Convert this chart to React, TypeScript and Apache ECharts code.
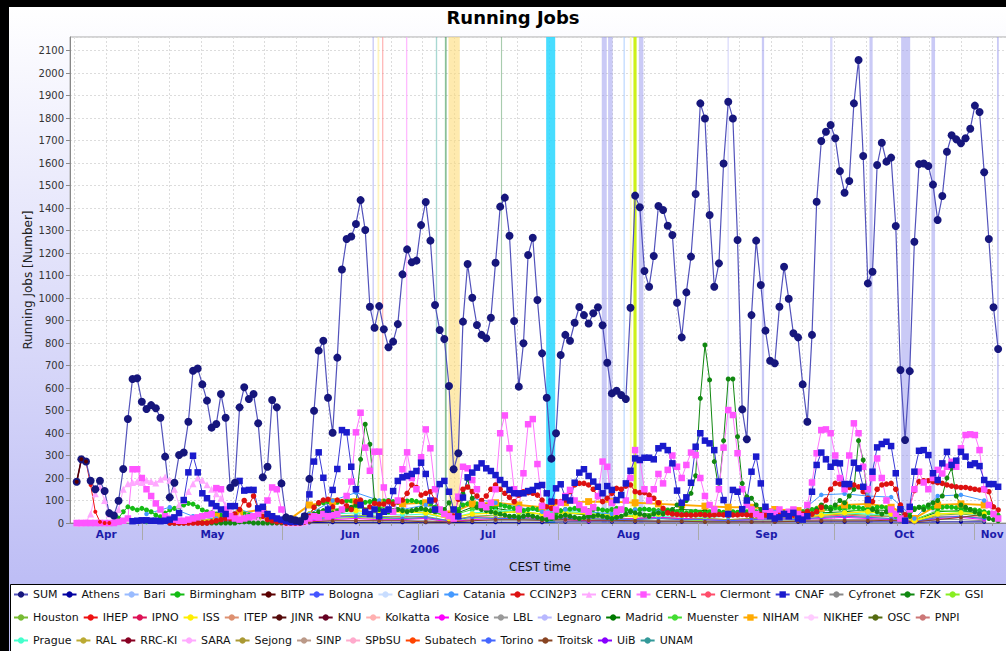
import React, { useEffect, useRef } from 'react';
import * as echarts from 'echarts';

// ---------------- time base of the samples ----------------
const FIRST_SAMPLE = '2006-04-16 11:30';
const SAMPLE_HOURS = 24.7;
const AXIS_START = '2006-04-15 00:00';
const AXIS_END = '2006-11-08 21:00';
const YEAR_LABEL_AT = '2006-07-02 12:00';
const MONTH_NAMES = ['Jan', 'Feb', 'Mar', 'Apr', 'May', 'Jun', 'Jul', 'Aug', 'Sep', 'Oct', 'Nov', 'Dec'];

// ---------------- daily series (one value per sample, null = not reported) ----------------
const SUM = [
  183, 283, 273, 188, 150, 188, 142, 44, 33, 99,
  240, 462, 640, 643, 539, 507, 524, 510, 468, 295,
  114, 179, 302, 313, 450, 677, 687, 616, 544, 424,
  440, 573, 468, 157, 179, 514, 603, 551, 573, 443,
  203, 250, 547, 514, 176, 25, 18, 12, 8, 30,
  196, 499, 766, 810, 557, 401, 735, 1127, 1262, 1273,
  1329, 1435, 1302, 961, 868, 964, 861, 781, 806, 884,
  1105, 1216, 1159, 1166, 1324, 1427, 1255, 969, 858, 818,
  609, 239, 310, 895, 1151, 1001, 880, 836, 821, 912,
  1157, 1406, 1446, 1277, 898, 606, 799, 1191, 1268, 991,
  754, 557, 286, 399, 747, 836, 810, 890, 960, 924,
  887, 932, 959, 879, 712, 576, 588, 569, 551, 957,
  1455, 1403, 1120, 1050, 1187, 1409, 1391, 1321, 1280, 979,
  825, 1025, 1184, 1462, 1865, 1798, 1369, 1050, 1154, 1598,
  1872, 1798, 1258, 505, 372, 924, 1255, 1058, 855, 721,
  710, 961, 1139, 997, 843, 825, 616, 450, 836, 1428,
  1698, 1739, 1769, 1710, 1564, 1468, 1520, 1865, 2058, 1631,
  1065, 1117, 1591, 1690, 1606, 1624, 1320, 680, 369, 675,
  1250, 1595, 1598, 1587, 1504, 1347, 1453, 1650, 1723, 1705,
  1688, 1710, 1752, 1855, 1827, 1559, 1262, 959, 773,
];

const CNAF = [
  null, null, null, null, null, null, null, null, null, null,
  null, null, 8, 10, 12, 12, 10, 10, 8, 10,
  15, 25, 44, 102, 225, 299, 225, 132, 110, 87,
  75, 60, 40, 75, 75, 187, 144, 147, 147, 65,
  72, 40, 30, 20, 15, 8, 5, 5, 5, 30,
  127, 273, 314, 201, 60, 147, 240, 413, 403, 250,
  150, 80, 50, 40, 60, 30, 50, 60, 142, 187,
  203, 209, 218, 231, 268, 218, 100, 60, 173, 187,
  139, 60, 30, 113, 203, 224, 246, 265, 243, 231,
  213, 191, 173, 147, 132, 132, 132, 142, 147, 164,
  169, 132, 95, 154, 172, 114, 100, 179, 224, 239,
  209, 184, 161, 132, 164, 147, 102, 124, 176, 232,
  287, 280, 290, 290, 283, 332, 342, 324, 265, 144,
  90, 114, 179, 339, 399, 366, 354, 324, 184, 102,
  40, 147, 139, 61, 100, 228, 295, 176, 72, 30,
  20, 25, 40, 30, 45, 20, 15, 30, 139, 258,
  313, 283, 250, 268, 265, 173, 173, 268, 243, 161,
  102, 228, 336, 351, 361, 342, 221, 61, 10, 72,
  228, 321, 324, 302, 221, 191, 265, 316, 258, 277,
  316, 295, 258, 265, 253, 191, 173, 173, 161,
];

const CERN_L = [
  0, 0, 0, 0, 0, 0, 0, 0, 0, 5,
  10, 20, 239, 239, 200, 150, 120, 87, 60, 30,
  20, 15, 10, 10, 15, 20, 25, 30, 35, 40,
  155, 150, 60, 30, 20, 15, 20, 25, 30, 40,
  60, 100, 158, 150, 60, 10, 5, 5, 5, 10,
  20, 30, 25, 40, 30, 35, 40, 60, 120, 184,
  403, 490, 335, 232, 317, 317, 158, 60, 50, 100,
  239, 314, 200, 150, 292, 416, 332, 150, 60, 40,
  30, 20, 117, 250, 243, 191, 150, 80, 70, 90,
  150, 399, 478, 332, 150, 60, 221, 439, 462, 262,
  76, 40, 30, 60, 90, 120, 147, 100, 80, 60,
  50, 70, 120, 273, 250, 90, 50, 60, 100, 200,
  324, 280, 150, 100, 150, 218, 176, 236, 300, 250,
  200, 258, 313, 302, 200, 120, 80, 60, 150, 335,
  502, 480, 310, 150, 80, 60, 40, 30, 60, 50,
  40, 60, 40, 50, 60, 40, 30, 80, 180, 310,
  413, 416, 399, 300, 200, 150, 300, 443, 399, 250,
  150, 200, 287, 200, 100, 60, 40, 20, 10, 60,
  150, 228, 180, 150, 200, 236, 220, 250, 272, 250,
  332, 391, 394, 391, 324, 150, 80, 40, 20,
];

const CCIN2P3 = [
  null, null, null, null, null, null, null, null, null, null,
  null, null, null, null, null, null, null, null, null, null,
  0, 0, 0, 0, 0, 0, 0, 0, 0, 5,
  10, 15, 20, 20, 40, 60, 100, 80, 120, 60,
  30, 15, 10, 5, 5, 0, 0, 0, 0, 5,
  30, 70, 90, 102, 105, 72, 102, 95, 76, 60,
  95, 102, 55, 72, 87, 84, 84, 95, 84, 95,
  102, 132, 169, 158, 124, 132, 139, 102, 60, 40,
  35, 31, 105, 150, 160, 140, 120, 100, 120, 150,
  169, 150, 132, 114, 95, 124, 139, 135, 132, 124,
  102, 72, 65, 95, 95, 102, 139, 169, 176, 176,
  169, 150, 117, 95, 110, 132, 154, 150, 164, 169,
  139, 135, 135, 124, 110, 90, 65, 45, 40, 38,
  36, 36, 35, 36, 38, 36, 35, 36, 38, 36,
  35, 36, 36, 38, 36, 35, 36, 38, 36, 35,
  36, 36, 38, 36, 35, 36, 40, 50, 40, 50,
  70, 102, 150, 176, 173, 164, 158, 169, 161, 139,
  110, 95, 150, 169, 173, 176, 150, 80, 36, 72,
  144, 184, 188, 188, 184, 179, 176, 169, 164, 161,
  158, 158, 154, 150, 147, 147, 139, 72, 58,
];

const FZK = [
  null, null, null, null, null, null, null, null, null, null,
  null, null, null, null, null, null, null, null, null, null,
  0, 0, 0, 0, 5, 5, 5, 0, 0, 0,
  0, 0, 0, 0, 0, 5, 5, 5, 0, 0,
  0, 0, 0, 0, 0, 0, 0, 0, 0, 5,
  20, 40, 50, 55, 50, 45, 50, 55, 60, 70,
  80, 283, 439, 350, 102, 60, 55, 50, 55, 60,
  55, 50, 55, 60, 65, 60, 55, 50, 60, 60,
  90, 30, 50, 130, 195, 110, 70, 60, 55, 50,
  45, 40, 35, 30, 30, 25, 30, 35, 30, 25,
  20, 15, 20, 25, 30, 35, 30, 25, 20, 25,
  30, 30, 35, 30, 25, 20, 25, 30, 40, 50,
  45, 40, 35, 30, 40, 45, 40, 50, 60, 80,
  70, 100, 132, 210, 554, 791, 636, 273, 147, 366,
  640, 640, 384, 176, 117, 110, 80, 60, 50, 40,
  35, 40, 45, 50, 45, 40, 35, 30, 40, 60,
  80, 70, 60, 80, 100, 90, 120, 150, 366, 280,
  100, 60, 50, 40, 50, 60, 40, 20, 10, 30,
  60, 70, 60, 80, 90, 100, 120, 200, 243, 120,
  80, 70, 60, 50, 40, 30, 20, 15, 10,
];

const BIRMINGHAM = [
  0, 0, 0, 0, 0, 0, 0, 0, 5, 22,
  50, 72, 65, 58, 65, 58, 50, 35, 28, 44,
  58, 65, 72, 80, 87, 84, 72, 58, 50, 45,
  40, 35, 30, 25, 20, 30, 40, 35, 30, 20,
  15, 10, 10, 5, 5, 0, 0, 0, 0, 5,
  40, 70, 85, 90, 95, 90, 92, 95, 100, 98,
  95, 90, 92, 95, 100, 96, 98, 100, 95, 92,
  95, 98, 100, 96, 92, 90, 85, 70, 60, 40,
  30, 20, 60, 80, 85, 90, 85, 80, 75, 70,
  75, 80, 75, 70, 65, 60, 55, 60, 65, 60,
  55, 40, 20, 40, 55, 60, 62, 65, 60, 58,
  55, 60, 62, 58, 55, 60, 65, 62, 60, 55,
  58, 60, 62, 60, 58, 55, 60, 58, 55, 50,
  48, 45, 50, 52, 48, 45, 50, 55, 52, 48,
  45, 50, 48, 45, 50, 55, 50, 48, 45, 50,
  52, 48, 45, 50, 48, 45, 50, 55, 60, 65,
  70, 72, 70, 68, 65, 70, 72, 70, 68, 65,
  62, 65, 70, 72, 68, 50, 30, 20, 25, 50,
  65, 70, 72, 70, 68, 65, 70, 72, 70, 68,
  65, 62, 60, 58, 55, 50, 45, 40, 35,
];

const CERN = [
  0, 0, 5, 40, 130, 160, 100, 40, 20, 60,
  150, 175, 180, 185, 180, 190, 185, 178, 195, 205,
  190, 150, 80, 100, 140, 175, 200, 190, 170, 150,
  130, 110, 80, 60, 40, 30, 25, 20, 20, 15,
  15, 10, 10, 5, 5, 0, 0, 0, 0, 5,
];

const IHEP = [180, 280, 272, 169, 50, 5, 0, 0];
const BITP = [183, 283, 273];

// ---------------- sparser series (one value every 5th sample, null = not reported) ----------------
const NIHAM = [null, null, null, null, null, null, 30, 45, 60, 5, 80, 95, 95, 90, 85, 90, 40, 85, 90, 80, 70, 90, 95, 95, 90, 85, 80, 75, 70, 70, 60, 55, 65, 80, 85, 70, 20, 80, 85, 80];
const ISS = [null, null, null, null, 5, 10, 15, 20, 15, 0, 40, 50, 55, 45, 50, 45, 20, 40, 45, 50, 40, 45, 40, 35, 30, 40, 35, 30, 35, 40, 30, 25, 35, 45, 50, 40, 10, 40, 45, 40];
const CATANIA = [null, null, null, 40, 70, 30, 20, 60, 30, 0, 40, 100, 135, 100, 60, 80, 30, 110, 90, 70, 50, 60, 50, 40, 60, 50, 40, 30, 30, 40, 50, 40, 125, 130, 120, 115, 20, 120, 125, 100];
const MADRID = [null, null, null, null, null, 10, 20, 30, 20, 0, 30, 60, 70, 60, 50, 55, 30, 70, 65, 50, 40, 45, 35, 30, 30, 50, 60, 55, 40, 30, 25, 30, 45, 50, 60, 55, 10, 50, 55, 40];
const MUENSTER = [null, null, null, 5, 10, 10, 20, 25, 20, 0, 40, 60, 65, 70, 60, 55, 30, 60, 55, 45, 40, 50, 45, 40, 35, 45, 40, 35, 30, 35, 45, 40, 55, 60, 50, 45, 15, 55, 50, 45];
const PRAGUE = [null, null, null, null, null, 5, 10, 15, 10, 0, 20, 40, 45, 40, 35, 40, 20, 45, 50, 60, 55, 50, 45, 40, 35, 30, 30, 25, 30, 35, 30, 25, 40, 45, 40, 35, 10, 40, 45, 35];
const CLERMONT = [null, null, null, null, null, 5, 10, 15, 10, 0, 20, 30, 30, 25, 30, 25, 10, 30, 25, 20, 20, 25, 20, 15, 20, 25, 20, 20, 15, 20, 25, 20, 30, 35, 30, 30, 5, 30, 30, 25];
const TORINO = [null, null, null, null, null, 5, 10, 10, 10, 0, 15, 25, 30, 25, 20, 25, 10, 25, 20, 20, 15, 20, 20, 15, 15, 20, 15, 15, 10, 15, 20, 15, 25, 30, 25, 20, 5, 25, 30, 20];
const TROITSK = [null, null, null, null, null, null, null, null, null, null, 5, 10, 10, 10, 10, 5, 5, 10, 15, 15, 12, 15, 12, 12, 10, 8, 8, 5, 5, 5, 5, 8, 10, 10, 10, 12, 5, 15, 25, 40];
const ATHENS = [null, null, null, null, null, null, null, null, null, null, 2, 3, 3, 3, 3, 3, 2, 3, 3, 3, 3, 5, 5, 5, 5, 5, 5, 5, 5, 5, 5, 5, 5, 5, 5, 5, 3, 5, 5, 5];
const HOUSTON = [null, null, null, null, null, null, 5, 10, 10, 0, 20, 30, 35, 30, 25, 30, 10, 30, 35, 30, 25, 30, 25, 20, 20, 25, 20, 20, 15, 20, 25, 20, 35, 40, 35, 30, 5, 35, 40, 30];
const GSI = [null, null, null, null, null, null, null, 5, 5, 0, 10, 20, 25, 20, 20, 20, 5, 20, 25, 20, 15, 20, 15, 15, 15, 20, 15, 10, 10, 15, 15, 15, 25, 30, 25, 20, 5, 25, 30, 20];
const KOSICE = [null, null, null, null, null, null, 5, 10, 5, 0, 10, 15, 20, 15, 15, 20, 5, 15, 20, 25, 20, 15, 10, 15, 20, 25, 20, 15, 10, 15, 20, 15, 20, 25, 20, 15, 5, 20, 25, 15];
const CYFRONET = [null, null, null, null, null, null, null, 5, 5, 0, 5, 10, 10, 10, 10, 10, 5, 10, 10, 10, 10, 10, 10, 10, 10, 10, 10, 10, 10, 10, 10, 10, 15, 15, 15, 15, 5, 15, 15, 10];

// ---------------- marker periods (vertical bands) ----------------
const BAND_START = [
  '2006-06-20 21:36', '2006-06-22 00:00', '2006-06-23 00:00', '2006-06-28 07:12', '2006-07-04 21:36',
  '2006-07-06 21:36', '2006-07-07 16:48', '2006-07-19 07:12', '2006-07-29 07:12', '2006-08-10 14:24',
  '2006-08-12 00:00', '2006-08-15 09:36', '2006-08-16 19:12', '2006-08-17 14:24', '2006-08-18 19:12',
  '2006-09-07 09:36', '2006-09-15 00:00', '2006-09-30 02:24', '2006-10-08 19:12', '2006-10-15 19:12',
  '2006-10-22 12:00', '2006-11-06 00:00',
];
const BAND_END = [
  '2006-06-21 04:48', '2006-06-22 09:36', '2006-06-23 07:12', '2006-06-28 14:24', '2006-07-05 04:48',
  '2006-07-07 07:12', '2006-07-10 04:48', '2006-07-19 13:12', '2006-07-31 07:12', '2006-08-11 16:48',
  '2006-08-13 00:00', '2006-08-15 16:48', '2006-08-17 04:48', '2006-08-18 07:12', '2006-08-19 19:12',
  '2006-09-07 16:48', '2006-09-15 12:00', '2006-09-30 14:24', '2006-10-09 12:00', '2006-10-17 19:12',
  '2006-10-23 07:12', '2006-11-06 09:36',
];

// ---------------- legend ----------------
const LEGEND_ROWS = [
  ['SUM', 'Athens', 'Bari', 'Birmingham', 'BITP', 'Bologna', 'Cagliari', 'Catania', 'CCIN2P3', 'CERN', 'CERN-L', 'Clermont', 'CNAF', 'Cyfronet', 'FZK', 'GSI'],
  ['Houston', 'IHEP', 'IPNO', 'ISS', 'ITEP', 'JINR', 'KNU', 'Kolkatta', 'Kosice', 'LBL', 'Legnaro', 'Madrid', 'Muenster', 'NIHAM', 'NIKHEF', 'OSC', 'PNPI'],
  ['Prague', 'RAL', 'RRC-KI', 'SARA', 'Sejong', 'SINP', 'SPbSU', 'Subatech', 'Torino', 'Troitsk', 'UiB', 'UNAM'],
];

// ---------------- styles ----------------
const FONT = "'DejaVu Sans', sans-serif";
const LAV = 'rgba(150,150,238,0.5)';
const BAND_COLOR = [
  LAV, 'rgba(255,236,150,0.6)', 'rgba(255,140,140,0.6)', 'rgba(255,160,255,0.7)', 'rgba(110,190,180,0.6)',
  'rgba(60,150,80,0.6)', 'rgba(253,220,120,0.6)', 'rgba(110,170,120,0.6)', 'rgba(40,215,255,0.85)', LAV,
  LAV, 'rgba(170,205,255,0.7)', 'rgba(255,250,140,0.6)', 'rgba(200,240,0,0.9)', LAV,
  'rgba(170,170,245,0.4)', LAV, 'rgba(170,170,245,0.45)', LAV, LAV,
  LAV, LAV,
];

type St = { color: string; line?: string; symbol?: string; size?: number; width?: number };
const STYLE: Record<string, St> = {
  SUM: { color: '#16167c', line: '#5252bb', size: 8, width: 1.2 },
  Athens: { color: '#0000a0', size: 4 },
  Bari: { color: '#99bbff', size: 4 },
  Birmingham: { color: '#14bb14', size: 5 },
  BITP: { color: '#5a0000', size: 4, width: 1.5 },
  Bologna: { color: '#4455ff', size: 4 },
  Cagliari: { color: '#c8ddff', size: 4 },
  Catania: { color: '#4499ff', size: 4.5 },
  CCIN2P3: { color: '#dd1111', size: 5.5 },
  CERN: { color: '#ffa8ff', symbol: 'triangle', size: 7 },
  'CERN-L': { color: '#ff55ff', line: '#ff77ff', symbol: 'rect', size: 6.5 },
  Clermont: { color: '#ff4d6a', size: 4 },
  CNAF: { color: '#1a1acc', line: '#3a3ad8', symbol: 'rect', size: 6.5 },
  Cyfronet: { color: '#888888', size: 4 },
  FZK: { color: '#118811', size: 5 },
  GSI: { color: '#88ee22', size: 4 },
  Houston: { color: '#77bb33', size: 4 },
  IHEP: { color: '#ee1111', size: 4 },
  IPNO: { color: '#dd1155', size: 4 },
  ISS: { color: '#ffee00', size: 5.5, width: 1.5 },
  ITEP: { color: '#dd9070', size: 4 },
  JINR: { color: '#550a0a', size: 4 },
  KNU: { color: '#660022', size: 4 },
  Kolkatta: { color: '#ffb0b0', size: 4 },
  Kosice: { color: '#ff00ff', size: 4 },
  LBL: { color: '#999999', size: 4 },
  Legnaro: { color: '#b8b8ff', size: 4 },
  Madrid: { color: '#007a00', size: 5 },
  Muenster: { color: '#44dd33', size: 5 },
  NIHAM: { color: '#ffaa00', symbol: 'rect', size: 7, width: 2 },
  NIKHEF: { color: '#ffccff', size: 4 },
  OSC: { color: '#556b10', size: 4 },
  PNPI: { color: '#cc7777', size: 4 },
  Prague: { color: '#44ffcc', size: 5 },
  RAL: { color: '#bbaa33', size: 4 },
  'RRC-KI': { color: '#880022', size: 4 },
  SARA: { color: '#ffaaff', size: 4 },
  Sejong: { color: '#aa9933', size: 4 },
  SINP: { color: '#bb9988', size: 4 },
  SPbSU: { color: '#ffaacc', size: 4 },
  Subatech: { color: '#ff4400', size: 4 },
  Torino: { color: '#4466ff', size: 4 },
  Troitsk: { color: '#884422', size: 4 },
  UiB: { color: '#8800ff', size: 4 },
  UNAM: { color: '#339999', size: 4 },
};

const DAILY: Record<string, (number | null)[]> = {
  SUM, CNAF, 'CERN-L': CERN_L, CCIN2P3, FZK, Birmingham: BIRMINGHAM, CERN, IHEP, BITP,
};
const FIVE_DAY: Record<string, (number | null)[]> = {
  NIHAM, ISS, Catania: CATANIA, Madrid: MADRID, Muenster: MUENSTER, Prague: PRAGUE, Clermont: CLERMONT,
  Torino: TORINO, Troitsk: TROITSK, Athens: ATHENS, Houston: HOUSTON, GSI, Kosice: KOSICE, Cyfronet: CYFRONET,
};
const TOP_ORDER = ['Birmingham', 'NIHAM', 'ISS', 'Catania', 'CERN', 'FZK', 'CCIN2P3', 'CERN-L', 'CNAF', 'IHEP', 'SUM', 'BITP'];

const utc = (s: string) => {
  const [d, t] = s.split(' ');
  const [Y, M, D] = d.split('-').map(Number);
  const [h, m] = (t || '0:0').split(':').map(Number);
  return Date.UTC(Y, M - 1, D, h, m);
};

export default function App() {
  const ref = useRef<HTMLDivElement>(null);
  useEffect(() => {
    const el = ref.current;
    if (!el) return;
    const chart = echarts.init(el, null, { renderer: 'svg' });

    const t0 = utc(FIRST_SAMPLE);
    const stepMs = SAMPLE_HOURS * 3600 * 1000;
    const toPoints = (vals: (number | null)[], stride: number) =>
      vals.map((v, i) => [t0 + i * stride * stepMs, v == null ? '-' : v]);

    const xMin = utc(AXIS_START);
    const xMax = utc(AXIS_END);
    const monthStarts: number[] = [];
    for (let m = 4; m <= 10; m++) monthStarts.push(Date.UTC(2006, m, 1));
    const monthMids: number[] = [];
    for (let m = 3; m <= 10; m++) {
      const a = Math.max(Date.UTC(2006, m, 1), xMin);
      const b = Math.min(Date.UTC(2006, m + 1, 1), xMax);
      monthMids.push((a + b) / 2);
    }
    const weeks: number[] = [];
    for (let t = Date.UTC(2006, 3, 16); t <= xMax; t += 7 * 86400000) weeks.push(t);

    const allNames = ([] as string[]).concat(...LEGEND_ROWS);
    const order = allNames.filter((n) => !TOP_ORDER.includes(n)).concat(TOP_ORDER);

    const mk = (name: string) => {
      const st = STYLE[name];
      const data = DAILY[name]
        ? toPoints(DAILY[name], 1)
        : FIVE_DAY[name]
          ? toPoints(FIVE_DAY[name], 5)
          : [];
      return {
        name,
        type: 'line',
        xAxisIndex: 0,
        yAxisIndex: 0,
        data,
        symbol: st.symbol || 'circle',
        symbolSize: st.size || 4,
        showSymbol: true,
        showAllSymbol: true,
        itemStyle: { color: st.color },
        lineStyle: { color: st.line || st.color, width: st.width || 1 },
        emphasis: { disabled: true },
        z: 3,
      };
    };

    const bands = BAND_START.map((s, i) => [
      { xAxis: utc(s), itemStyle: { color: BAND_COLOR[i] } },
      { xAxis: utc(BAND_END[i]) },
    ]);

    const legendData = ([] as string[]).concat(LEGEND_ROWS[0], [''], LEGEND_ROWS[1], [''], LEGEND_ROWS[2]);

    const option: any = {
      animation: false,
      backgroundColor: 'transparent',
      title: {
        text: 'Running Jobs',
        left: 'center',
        top: 1,
        padding: 0,
        textStyle: { fontFamily: FONT, fontWeight: 'bold', fontSize: 18, color: '#000' },
      },
      graphic: [
        {
          type: 'rect',
          silent: true,
          z: 0,
          shape: { x: 1.5, y: 577.5, width: 1100, height: 100 },
          style: { fill: '#ffffff', stroke: '#000000', lineWidth: 1 },
        },
      ],
      legend: {
        data: legendData,
        left: 4,
        top: 578,
        itemWidth: 14,
        itemHeight: 8,
        itemGap: 4,
        padding: 0,
        selectedMode: false,
        z: 10,
        textStyle: { fontFamily: FONT, fontSize: 11, color: '#111', lineHeight: 19 },
      },
      grid: {
        left: 61,
        right: 7,
        top: 30,
        bottom: 128,
        show: true,
        backgroundColor: '#ffffff',
        borderColor: '#aaaaaa',
        borderWidth: 1,
      },
      xAxis: [
        {
          type: 'value',
          min: xMin,
          max: xMax,
          position: 'bottom',
          axisLine: { show: true, onZero: false, lineStyle: { color: '#888888' } },
          axisTick: { show: true, customValues: monthStarts, length: 17, lineStyle: { color: '#aaaaaa' } },
          axisLabel: {
            customValues: monthMids,
            formatter: (v: number) => MONTH_NAMES[new Date(v).getUTCMonth()],
            fontFamily: FONT,
            fontWeight: 'bold',
            fontSize: 10.5,
            color: '#1c1cab',
            margin: 5,
          },
          splitLine: { show: false },
          name: 'CEST time',
          nameLocation: 'middle',
          nameGap: 38,
          nameMoveOverlap: false,
          nameTextStyle: { fontFamily: FONT, fontSize: 12, color: '#111' },
        },
        {
          type: 'value',
          min: xMin,
          max: xMax,
          position: 'bottom',
          axisLine: { show: false },
          axisTick: { show: true, customValues: weeks, length: 3, lineStyle: { color: '#999999' } },
          axisLabel: {
            customValues: [utc(YEAR_LABEL_AT)],
            formatter: () => '2006',
            fontFamily: FONT,
            fontWeight: 'bold',
            fontSize: 10.5,
            color: '#1c1cab',
            margin: 20,
          },
          splitLine: { show: true, lineStyle: { color: '#dcdcdc', type: [2, 2] } },
        },
      ],
      yAxis: {
        type: 'value',
        min: 0,
        max: 2160,
        interval: 100,
        name: 'Running Jobs [Number]',
        nameLocation: 'middle',
        nameGap: 36,
        nameMoveOverlap: false,
        nameTextStyle: { fontFamily: FONT, fontSize: 12, color: '#222' },
        axisLine: { show: true, lineStyle: { color: '#888888' } },
        axisTick: { show: true, length: 4, lineStyle: { color: '#888888' } },
        axisLabel: {
          margin: 6,
          fontFamily: FONT,
          fontSize: 10,
          color: '#333',
          showMaxLabel: false,
          formatter: (v: number) => (v % 100 === 0 ? String(v) : ''),
        },
        splitLine: { show: true, lineStyle: { color: '#dcdcdc', type: [2, 2] } },
      },
      series: [
        {
          name: 'bands',
          type: 'line',
          data: [],
          z: 1,
          markArea: { silent: true, label: { show: false }, data: bands },
        },
        ...order.map(mk),
      ],
    };
    chart.setOption(option);
    return () => chart.dispose();
  }, []);

  return (
    <div style={{ position: 'fixed', left: 0, top: 0, right: 0, bottom: 0, background: '#000', overflow: 'hidden' }}>
      <div
        ref={ref}
        style={{
          position: 'absolute',
          left: 9,
          top: 7,
          width: 1008,
          height: 644,
          background: 'linear-gradient(to bottom, #ffffff 0%, #bdbdf5 90%)',
        }}
      />
    </div>
  );
}
